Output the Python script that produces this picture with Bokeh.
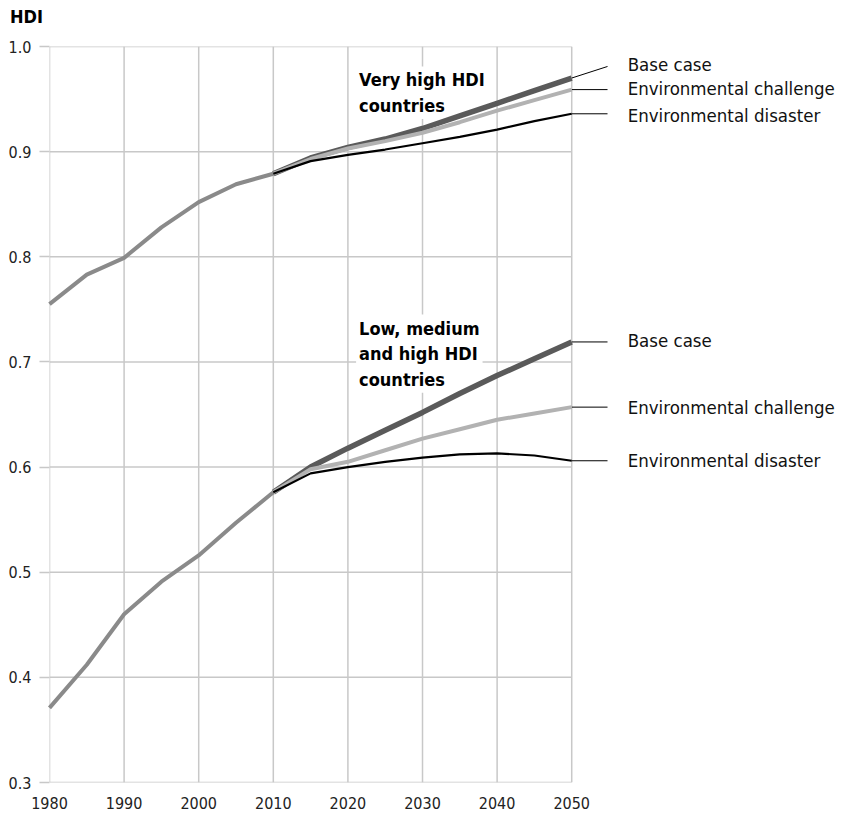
from bokeh.plotting import figure
from bokeh.models import Range1d, FixedTicker, PrintfTickFormatter, Label, Div
from bokeh.layouts import column
from bokeh.core.properties import value
from bokeh.embed import file_html
from bokeh.resources import INLINE

# ---------------- data ----------------
hist_years = [1980, 1985, 1990, 1995, 2000, 2005, 2010]
vh_hist = [0.755, 0.783, 0.799, 0.828, 0.852, 0.869, 0.879]
lmh_hist = [0.371, 0.412, 0.460, 0.491, 0.516, 0.547, 0.576]

proj_years = [2010, 2015, 2020, 2025, 2030, 2035, 2040, 2045, 2050]
vh_base = [0.879, 0.894, 0.904, 0.912, 0.922, 0.934, 0.946, 0.958, 0.970]
vh_challenge = [0.879, 0.893, 0.903, 0.910, 0.918, 0.928, 0.939, 0.949, 0.959]
vh_disaster = [0.879, 0.891, 0.897, 0.902, 0.908, 0.914, 0.921, 0.929, 0.936]
lmh_base = [0.576, 0.600, 0.618, 0.635, 0.652, 0.670, 0.687, 0.703, 0.719]
lmh_challenge = [0.576, 0.598, 0.605, 0.616, 0.627, 0.636, 0.645, 0.651, 0.657]
lmh_disaster = [0.576, 0.594, 0.600, 0.605, 0.609, 0.612, 0.613, 0.611, 0.606]

scenario_names = ["Base case", "Environmental challenge", "Environmental disaster"]
x_ticks = [1980, 1990, 2000, 2010, 2020, 2030, 2040, 2050]
y_ticks = [0.3, 0.4, 0.5, 0.6, 0.7, 0.8, 0.9, 1.0]

# ---------------- layout / style ----------------
FONT = "DejaVu Sans Condensed"
GRID = "#c8c8c8"
C_HIST = "#8a8a8a"
C_BASE = "#5a5a5a"
C_CHAL = "#b2b2b2"
C_DIS = "#000000"

# axis title above the chart
title_div = Div(text="HDI", width=845, height=34,
                styles={"font-family": FONT, "font-size": "18px", "font-weight": "bold",
                        "line-height": "34px", "padding-left": "10px", "color": "#000000",
                        "margin": "0"})

x_end = 2086.7
p = figure(width=845, height=778, x_range=Range1d(1980, x_end), y_range=Range1d(0.3, 1.0),
           output_backend="svg", toolbar_location=None,
           min_border_left=49, min_border_right=0, min_border_top=12, min_border_bottom=30)
p.outline_line_color = None
p.grid.visible = False
p.background_fill_color = "white"

# axes
p.xaxis.ticker = FixedTicker(ticks=x_ticks)
p.yaxis.ticker = FixedTicker(ticks=y_ticks)
p.yaxis.formatter = PrintfTickFormatter(format="%.1f")
for ax in (p.xaxis[0], p.yaxis[0]):
    ax.axis_line_color = None
    ax.minor_tick_line_color = None
    ax.major_label_text_font = FONT
    ax.major_label_text_font_size = "16px"
    ax.major_label_text_color = "#222222"
p.xaxis.major_tick_line_color = None
p.xaxis.major_label_standoff = 8
p.yaxis.major_tick_line_color = GRID
p.yaxis.major_tick_line_width = 1.5
p.yaxis.major_tick_out = 10
p.yaxis.major_tick_in = 0
p.yaxis.major_label_standoff = 8

# custom grid limited to the data area
p.segment(x0=[1980] * len(y_ticks), y0=y_ticks, x1=[2050] * len(y_ticks), y1=y_ticks,
          line_color=GRID, line_width=1.5)
p.segment(x0=x_ticks, y0=[0.3] * len(x_ticks), x1=x_ticks, y1=[1.0] * len(x_ticks),
          line_color=GRID, line_width=1.5)

# lines (drawn above the label boxes)
for hist, base, chal, dis in ((vh_hist, vh_base, vh_challenge, vh_disaster),
                              (lmh_hist, lmh_base, lmh_challenge, lmh_disaster)):
    p.line(hist_years, hist, line_color=C_HIST, line_width=4, level="overlay")
    p.line(proj_years, base, line_color=C_BASE, line_width=5.5, level="overlay")
    p.line(proj_years, chal, line_color=C_CHAL, line_width=4, level="overlay")
    p.line(proj_years, dis, line_color=C_DIS, line_width=2.2, level="overlay")

# leader lines and scenario labels
lead_x1 = 2054.8
text_x = 2057.5
vh_label_y = [0.983, 0.960, 0.934]
lmh_label_y = [0.720, 0.657, 0.606]
vh_ends = [vh_base[-1], vh_challenge[-1], vh_disaster[-1]]
lmh_ends = [lmh_base[-1], lmh_challenge[-1], lmh_disaster[-1]]
vh_lead_y = [0.981, 0.959, 0.936]
lmh_lead_y = [0.719, 0.657, 0.606]
p.segment(x0=[2050] * 3, y0=vh_ends, x1=[lead_x1] * 3, y1=vh_lead_y, line_color="black", line_width=1)
p.segment(x0=[2050] * 3, y0=lmh_ends, x1=[lead_x1] * 3, y1=lmh_lead_y, line_color="black", line_width=1)
p.text(x=[text_x] * 6, y=vh_label_y + lmh_label_y, text=scenario_names * 2,
       text_font=value(FONT), text_baseline="middle", text_align="left",
       text_font_size="18.5px", text_color="#111111")

# group labels
for txt, yy in (("Very high HDI\ncountries", 0.981), ("Low, medium\nand high HDI\ncountries", 0.745)):
    p.add_layout(Label(x=2021.1, y=yy, text=txt, text_font=FONT, text_font_style="bold",
                       text_font_size="18px", text_line_height=1.22, text_baseline="top",
                       text_align="left", text_color="#000000",
                       background_fill_color="white", padding=3))

layout = column(title_div, p, spacing=0)
open("out.html", "w").write(file_html(layout, INLINE))
